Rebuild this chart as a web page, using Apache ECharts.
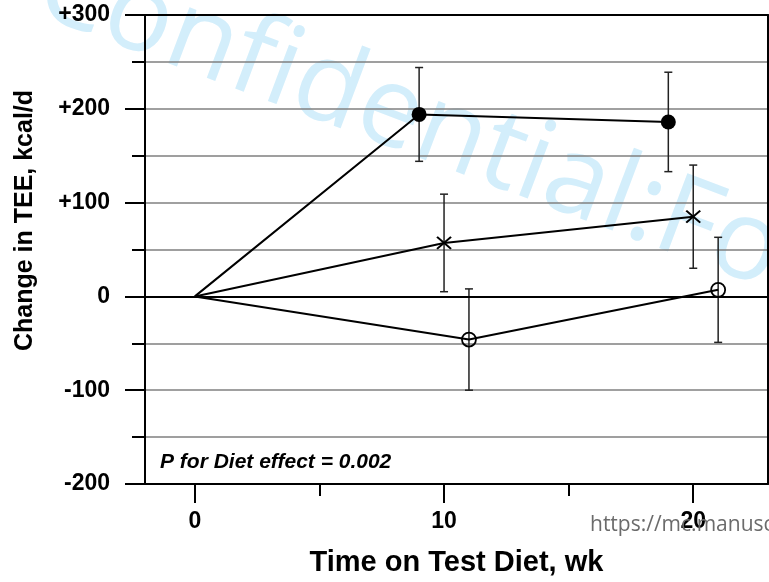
<!DOCTYPE html>
<html>
<head>
<meta charset="utf-8">
<script src="https://cdn.jsdelivr.net/npm/echarts@6/dist/echarts.min.js"></script>
<style>
  html, body { margin: 0; padding: 0; background: #fff; }
  main { width: 769px; height: 582px; }
</style>
</head>
<body>
<main></main>
<script>
;(function () {
  // weeks on diet, mean change in TEE and its error, per diet group
  const filledWeeks = [0, 9, 19]
  const filledMean = [0, 194, 186]
  const filledErr = [0, 50, 53]

  const crossWeeks = [0, 10, 20]
  const crossMean = [0, 57, 85]
  const crossErr = [0, 52, 55]

  const openWeeks = [0, 11, 21]
  const openMean = [0, -46, 7]
  const openErr = [0, 54, 56]

  const xTicks = [0, 10, 20]
  const xMinorTicks = [5, 15]
  const yLabels = { 300: '+300', 200: '+200', 100: '+100', 0: '0', '-100': '-100', '-200': '-200' }

  const font = '"Liberation Sans", Arial, sans-serif'

  function points(weeks, mean) {
    return weeks.map((w, i) => (i === 0 ? { value: [w, mean[i]], symbol: 'none' } : [w, mean[i]]))
  }
  function bars(weeks, mean, err) {
    const out = []
    for (let i = 0; i < weeks.length; i++) {
      if (err[i]) out.push([weeks[i], mean[i] - err[i], mean[i] + err[i]])
    }
    return out
  }

  function errorBar(params, api) {
    const lo = api.coord([api.value(0), api.value(1)])
    const hi = api.coord([api.value(0), api.value(2)])
    const w = 4
    const style = { stroke: '#222', lineWidth: 1.5 }
    return {
      type: 'group',
      children: [
        { type: 'line', shape: { x1: lo[0], y1: lo[1], x2: hi[0], y2: hi[1] }, style },
        { type: 'line', shape: { x1: lo[0] - w, y1: lo[1], x2: lo[0] + w, y2: lo[1] }, style },
        { type: 'line', shape: { x1: hi[0] - w, y1: hi[1], x2: hi[0] + w, y2: hi[1] }, style },
      ],
    }
  }

  const lineStyle = { color: '#000', width: 2 }
  const frame = { show: true, onZero: false, lineStyle: { color: '#000', width: 2 } }
  const chart = echarts.init(document.querySelector('main'))

  chart.setOption({
    animation: false,
    grid: { left: 145, top: 15, width: 623, height: 469 },
    graphic: [
      {
        type: 'text',
        z: -10,
        x: 22,
        y: 34,
        rotation: -0.36,
        style: {
          text: 'Confidential:For Review Only',
          font: '112px "Open Sans", sans-serif',
          fill: '#d3eefb',
          verticalAlign: 'bottom',
        },
      },
      {
        type: 'text',
        left: 160,
        top: 452,
        style: { text: 'P for Diet effect = 0.002', font: 'italic bold 21px ' + font, fill: '#000' },
      },
      {
        type: 'text',
        left: 590,
        top: 515,
        z: 10,
        style: { text: 'https://mc.manuscriptcentral.com/ajcn', font: '21px "Open Sans", sans-serif', fill: '#6b6b6b' },
      },
    ],
    xAxis: [
      {
        type: 'value',
        min: -2,
        max: 23,
        position: 'bottom',
        name: 'Time on Test Diet, wk',
        nameLocation: 'middle',
        nameGap: 64,
        nameTextStyle: { fontFamily: font, fontWeight: 'bold', fontSize: 29, color: '#000' },
        axisLine: frame,
        axisTick: { show: true, customValues: xTicks, length: 19, lineStyle: { color: '#000', width: 2 } },
        axisLabel: {
          customValues: xTicks,
          margin: 26,
          fontFamily: font,
          fontWeight: 'bold',
          fontSize: 23,
          color: '#000',
        },
        splitLine: { show: false },
      },
      {
        type: 'value',
        min: -2,
        max: 23,
        position: 'top',
        axisLine: frame,
        axisTick: { show: false },
        axisLabel: { show: false },
        splitLine: { show: false },
      },
      {
        type: 'value',
        min: -2,
        max: 23,
        position: 'bottom',
        axisLine: { show: false, onZero: false },
        axisTick: { show: true, customValues: xMinorTicks, length: 12, lineStyle: { color: '#000', width: 2 } },
        axisLabel: { show: false },
        splitLine: { show: false },
      },
    ],
    yAxis: [
      {
        type: 'value',
        min: -200,
        max: 300,
        interval: 100,
        position: 'left',
        name: 'Change in TEE, kcal/d',
        nameLocation: 'middle',
        nameGap: 107,
        nameTextStyle: {
          fontFamily: font,
          fontWeight: 'bold',
          fontSize: 25,
          color: '#000',
          padding: [0, 0, 0, 58],
        },
        axisLine: frame,
        axisTick: { show: true, length: 20, lineStyle: { color: '#000', width: 2 } },
        minorTick: { show: true, splitNumber: 2, length: 13, lineStyle: { color: '#000', width: 2 } },
        axisLabel: {
          margin: 35,
          fontFamily: font,
          fontWeight: 'bold',
          fontSize: 23,
          color: '#000',
          formatter: (v) => yLabels[v],
        },
        splitLine: { show: true, showMinLine: false, showMaxLine: false, lineStyle: { color: '#808080', width: 1.5 } },
        minorSplitLine: { show: true, lineStyle: { color: '#808080', width: 1.5 } },
      },
      {
        type: 'value',
        min: -200,
        max: 300,
        position: 'right',
        axisLine: frame,
        axisTick: { show: false },
        axisLabel: { show: false },
        splitLine: { show: false },
      },
    ],
    series: [
      {
        name: 'filled',
        type: 'line',
        data: points(filledWeeks, filledMean),
        symbol: 'circle',
        symbolSize: 15,
        itemStyle: { color: '#000' },
        lineStyle,
        z: 5,
        markLine: {
          silent: true,
          symbol: 'none',
          label: { show: false },
          lineStyle: { color: '#000', width: 2, type: 'solid' },
          data: [{ yAxis: 0 }],
        },
      },
      {
        name: 'cross',
        type: 'line',
        data: points(crossWeeks, crossMean),
        symbol: 'path://M0,0L14,12M14,0L0,12',
        symbolSize: [14, 12],
        itemStyle: { color: 'none', borderColor: '#000', borderWidth: 2 },
        lineStyle,
        z: 5,
      },
      {
        name: 'open',
        type: 'line',
        data: points(openWeeks, openMean),
        symbol: 'circle',
        symbolSize: 14,
        itemStyle: { color: 'rgba(255,255,255,0)', borderColor: '#000', borderWidth: 1.8 },
        lineStyle,
        z: 5,
      },
      {
        type: 'custom',
        renderItem: errorBar,
        data: bars(filledWeeks, filledMean, filledErr)
          .concat(bars(crossWeeks, crossMean, crossErr))
          .concat(bars(openWeeks, openMean, openErr)),
        z: 4,
      },
    ],
  })
})()
</script>
</body>
</html>
